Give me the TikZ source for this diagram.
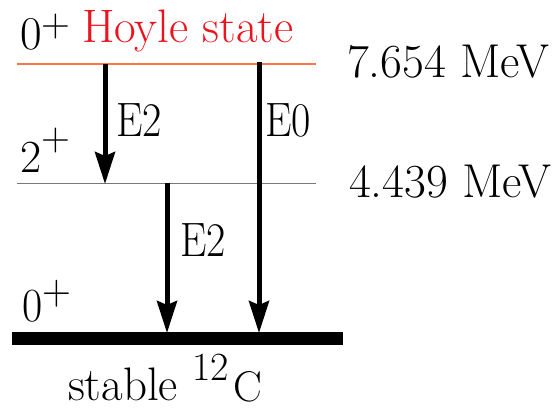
\documentclass[tikz,border=0pt]{standalone}
\usepackage{fontspec}
\usetikzlibrary{arrows.meta}
\definecolor{hoylered}{RGB}{235,20,30}
\definecolor{hoyleline}{RGB}{245,120,70}
\definecolor{levelgray}{RGB}{120,120,120}
\tikzset{
  lbl/.style={anchor=base west, inner sep=0pt, outer sep=0pt, font=\rmfamily},
  level/.style={line width=1pt},
  trans/.style={line width=5pt, -{Stealth[length=32pt,width=20pt,inset=4pt]}},
}
\newcommand{\fs}[1]{\rmfamily\fontsize{#1}{#1}\selectfont}
\begin{document}
\begin{tikzpicture}[x=1pt,y=-1pt]
\useasboundingbox (0,0) rectangle (558,409);
% level lines
\draw[level, hoyleline, line width=1.2pt] (17,64) -- (316,64);
\draw[level, levelgray] (17,184) -- (316,184);
\fill[black] (12,332) rectangle (343,345);
% endpoints
\coordinate (hA) at (105,64);
\coordinate (mA) at (105,184);
\coordinate (hB) at (259,62);
\coordinate (gB) at (259,333);
\coordinate (mC) at (167,183);
\coordinate (gC) at (167,333);
% transitions
\draw[trans] (hA) -- (mA);
\draw[trans] (hB) -- (gB);
\draw[trans] (mC) -- (gC);
% labels
\node[lbl] (j0top) at (20,50) {\fs{47}0\raisebox{13pt}{\fs{40}+}};
\node[lbl, text=hoylered] (hoyle) at (82,43) {\fs{47}Hoyle state};
\node[lbl] (e1) at (347,78) {\fs{47.5}7.654 MeV};
\node[lbl] (e2) at (349,198) {\fs{47.5}4.439 MeV};
\node[lbl] (t1) at (116,137) {\scalebox{1}[1.15]{\fs{42}E2}};
\node[lbl] (t2) at (265,137) {\scalebox{1}[1.15]{\fs{42}E0}};
\node[lbl] (j2) at (20,173) {\fs{46}2\raisebox{22pt}{\fs{40}+}};
\node[lbl] (t3) at (180,257) {\scalebox{1}[1.15]{\fs{42}E2}};
\node[lbl] (j0low) at (22,322) {\scalebox{1}[1.08]{\fs{44}0\raisebox{16pt}{\fs{40}+}}};
\node[lbl] (stable) at (68,400) {\fs{47}stable};
\node[lbl] (mass) at (192,381) {\fs{40}12};
\node[lbl] (carbon) at (233,402) {\fs{43}C};
\end{tikzpicture}
\end{document}
